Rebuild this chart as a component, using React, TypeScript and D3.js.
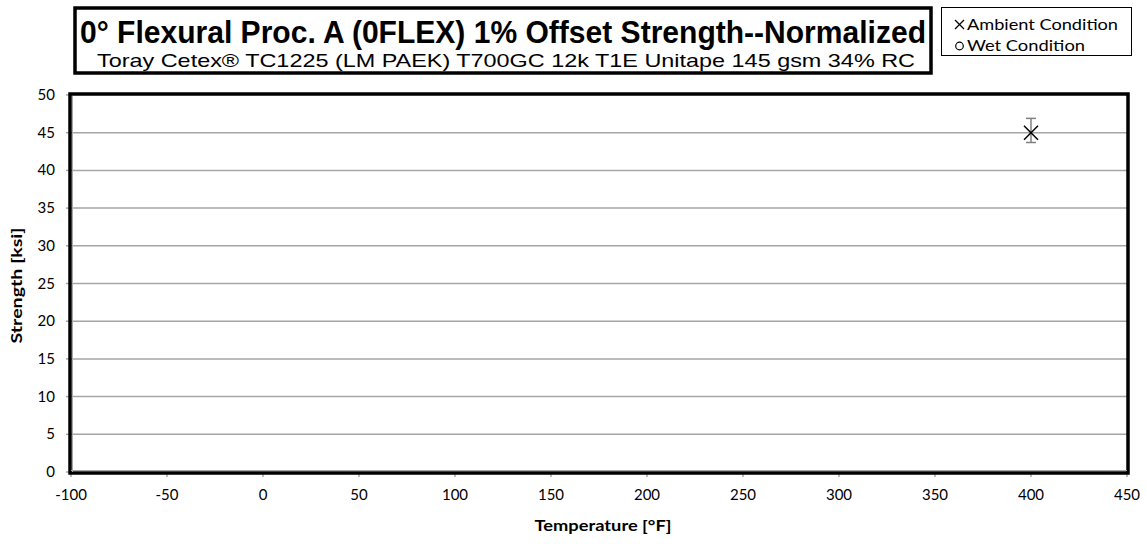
import React from "react";
import * as d3 from "d3";

const xTicks = [-100, -50, 0, 50, 100, 150, 200, 250, 300, 350, 400, 450];
const yTicks = [0, 5, 10, 15, 20, 25, 30, 35, 40, 45, 50];

const ambientTemp = [400];
const ambientMean = [45.0];
const ambientLow = [43.7];
const ambientHigh = [46.9];

const titleText = "0° Flexural Proc. A (0FLEX) 1% Offset Strength--Normalized";
const subtitleText = "Toray  Cetex® TC1225  (LM PAEK) T700GC  12k T1E Unitape 145 gsm 34% RC";
const legendLabels = ["Ambient Condition", "Wet Condition"];

const W = 1147;
const H = 544;
const left = 71;
const right = 1127;
const top = 95;
const bottom = 472;

const App = () => {
  const x = d3.scaleLinear().domain([-100, 450]).range([left, right]);
  const y = d3.scaleLinear().domain([0, 50]).range([bottom, top]);
  const tickFont = "Lato, 'Open Sans', sans-serif";

  return (
    <svg
      width={W}
      height={H}
      style={{ position: "absolute", left: 0, top: 0, background: "#fff" }}
    >
      {/* gridlines */}
      {yTicks.slice(1, -1).map((t) => (
        <line key={"g" + t} x1={left} x2={right} y1={y(t)} y2={y(t)} stroke="#a6a6a6" strokeWidth={1.5} />
      ))}

      {/* tick marks */}
      {yTicks.map((t) => (
        <line key={"yt" + t} x1={left - 5} x2={left} y1={y(t)} y2={y(t)} stroke="#a6a6a6" strokeWidth={1.5} />
      ))}
      {xTicks.map((t) => (
        <line key={"xt" + t} x1={x(t)} x2={x(t)} y1={bottom} y2={bottom + 5} stroke="#a6a6a6" strokeWidth={1.5} />
      ))}

      {/* plot frame */}
      <rect x={left - 1} y={top - 1} width={right - left + 2} height={bottom - top + 2} fill="none" stroke="#000" strokeWidth={3.5} />
      <line x1={left + 1.5} x2={left + 1.5} y1={top + 1} y2={bottom} stroke="#a6a6a6" strokeWidth={1} />
      <line x1={left} x2={right} y1={bottom - 1.5} y2={bottom - 1.5} stroke="#a6a6a6" strokeWidth={1} />

      {/* tick labels */}
      {yTicks.map((t) => (
        <text key={"yl" + t} x={left - 16} y={y(t) + 5} textAnchor="end" fontSize={15} fontFamily={tickFont} fill="#000">
          {t}
        </text>
      ))}
      {xTicks.map((t) => (
        <text key={"xl" + t} x={x(t)} y={bottom + 28} textAnchor="middle" fontSize={15} fontFamily={tickFont} fill="#000">
          {t}
        </text>
      ))}

      {/* axis titles */}
      <text
        x={0}
        y={0}
        transform={`translate(22, ${(top + bottom) / 2 + 2}) rotate(-90)`}
        textAnchor="middle"
        fontSize={16}
        fontWeight="bold"
        fontFamily={tickFont}
        textLength={116}
        lengthAdjust="spacingAndGlyphs"
      >
        Strength [ksi]
      </text>
      <text
        x={(left + right) / 2 + 4}
        y={bottom + 59}
        textAnchor="middle"
        fontSize={16}
        fontWeight="bold"
        fontFamily={tickFont}
        textLength={137}
        lengthAdjust="spacingAndGlyphs"
      >
        Temperature [°F]
      </text>

      {/* error bars */}
      {ambientTemp.map((t, i) => (
        <g key={"eb" + i} stroke="#808080" strokeWidth={1.5}>
          <line x1={x(t)} x2={x(t)} y1={y(ambientLow[i])} y2={y(ambientHigh[i])} />
          <line x1={x(t) - 5} x2={x(t) + 5} y1={y(ambientLow[i])} y2={y(ambientLow[i])} />
          <line x1={x(t) - 5} x2={x(t) + 5} y1={y(ambientHigh[i])} y2={y(ambientHigh[i])} />
        </g>
      ))}
      {/* ambient markers */}
      {ambientTemp.map((t, i) => {
        const cx = x(t);
        const cy = y(ambientMean[i]);
        const s = 7;
        return (
          <g key={"m" + i} stroke="#000" strokeWidth={1.5}>
            <line x1={cx - s} x2={cx + s} y1={cy - s} y2={cy + s} />
            <line x1={cx - s} x2={cx + s} y1={cy + s} y2={cy - s} />
          </g>
        );
      })}

      {/* title box */}
      <rect x={75} y={8} width={856} height={65} fill="#fff" stroke="#000" strokeWidth={3.5} />
      <text x={80} y={43} fontSize={31} fontWeight="bold" fontFamily="'Liberation Sans', Arial, sans-serif" textLength={846} lengthAdjust="spacingAndGlyphs">
        {titleText}
      </text>
      <text x={97} y={67} fontSize={19} fontFamily="'Liberation Sans', Arial, sans-serif" textLength={818} lengthAdjust="spacingAndGlyphs">
        {subtitleText}
      </text>

      {/* legend */}
      <rect x={941.5} y={7.5} width={190} height={48} fill="#fff" stroke="#000" strokeWidth={1} />
      <g stroke="#000" strokeWidth={1.2}>
        <line x1={955} x2={964} y1={20} y2={29} />
        <line x1={955} x2={964} y1={29} y2={20} />
      </g>
      <circle cx={959.5} cy={46} r={3.8} fill="none" stroke="#000" strokeWidth={1.2} />
      <text x={967} y={30} fontSize={15.5} fontFamily={tickFont} textLength={151} lengthAdjust="spacingAndGlyphs">
        {legendLabels[0]}
      </text>
      <text x={967} y={51} fontSize={15.5} fontFamily={tickFont} textLength={118} lengthAdjust="spacingAndGlyphs">
        {legendLabels[1]}
      </text>
    </svg>
  );
};

export default App;
